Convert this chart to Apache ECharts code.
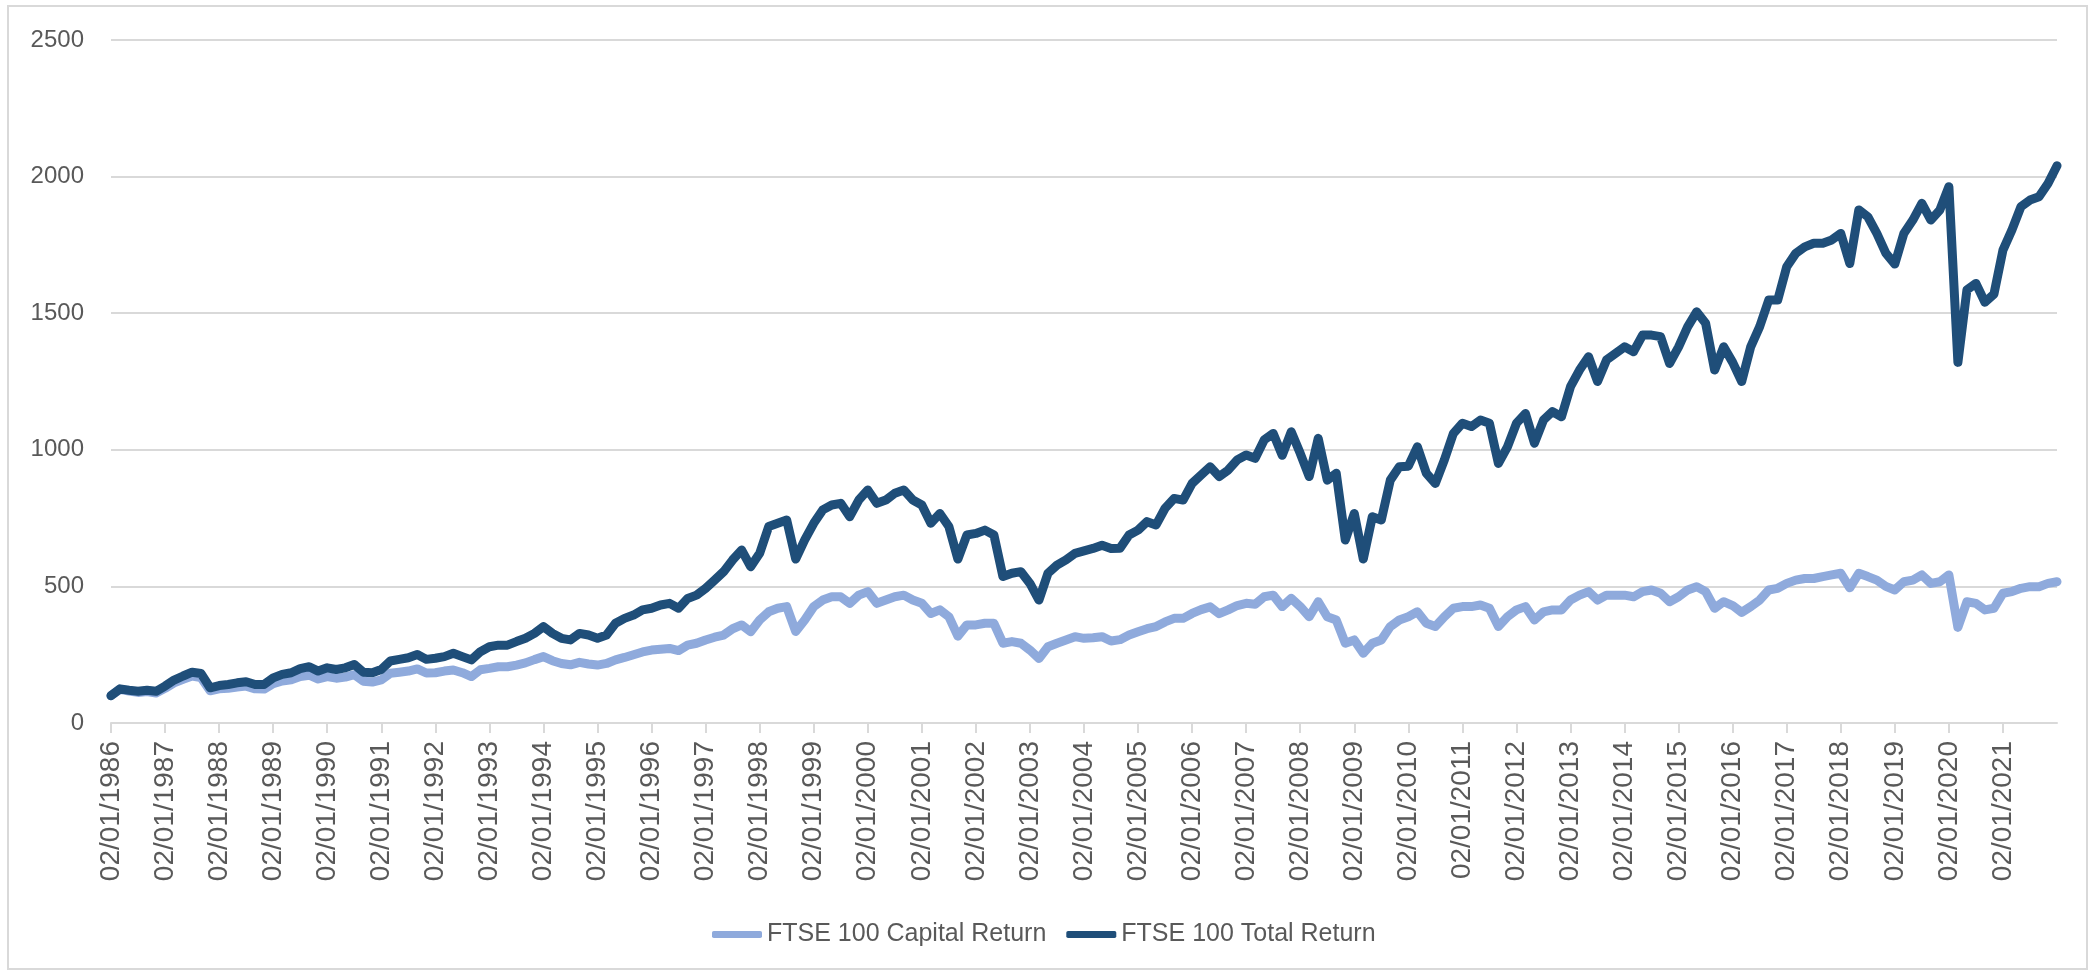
<!DOCTYPE html>
<html>
<head>
<meta charset="utf-8">
<title>FTSE 100 Capital vs Total Return</title>
<script src="https://cdn.jsdelivr.net/npm/echarts@6/dist/echarts.min.js"></script>
<style>
  html, body { margin: 0; padding: 0; background: #fff; }
  #chart { width: 2091px; height: 973px; }
</style>
</head>
<body>
<div id="chart"></div>
<script>
// one point every two months, Jan 1986 .. Jan 2022
const years = [1986, 1987, 1988, 1989, 1990, 1991, 1992, 1993, 1994, 1995, 1996, 1997,
  1998, 1999, 2000, 2001, 2002, 2003, 2004, 2005, 2006, 2007, 2008, 2009,
  2010, 2011, 2012, 2013, 2014, 2015, 2016, 2017, 2018, 2019, 2020, 2021]
const months = ['01', '03', '05', '07', '09', '11']
const lastDate = '02/01/2022'

const capitalReturn = [
  100, 123, 117, 112, 115, 110, // 1986
  127, 147, 160, 172, 166, 118,
  125, 127, 132, 135, 125, 124,
  144, 154, 158, 170, 175, 161,
  170, 164, 168, 177, 153, 150, // 1990
  158, 182, 186, 190, 198, 183,
  184, 190, 194, 184, 170, 195,
  200, 206, 206, 212, 220, 232,
  243, 228, 218, 213, 222, 216,
  212, 218, 231, 240, 250, 260,
  267, 270, 273, 265, 285, 292,
  304, 314, 322, 345, 359, 334,
  377, 407, 420, 426, 335, 377,
  426, 450, 462, 462, 438, 468,
  481, 438, 450, 462, 468, 450, // 2000
  438, 401, 414, 389, 318, 359,
  359, 365, 365, 292, 298, 292,
  267, 236, 279, 292, 304, 316,
  310, 312, 316, 300, 305, 322,
  334, 345, 353, 370, 383, 383,
  401, 415, 425, 400, 414, 430,
  438, 435, 462, 468, 426, 456,
  426, 389, 444, 389, 377, 292,
  304, 255, 292, 304, 353, 377,
  389, 407, 365, 353, 389, 420, // 2010
  426, 426, 432, 420, 353, 389,
  414, 426, 377, 407, 414, 414,
  450, 468, 481, 450, 468, 468,
  468, 462, 481, 487, 475, 444,
  462, 487, 499, 481, 420, 444,
  430, 405, 426, 450, 487, 493,
  511, 523, 529, 529, 536, 542,
  548, 495, 548, 536, 523, 500,
  487, 517, 523, 542, 511, 517,
  542, 350, 444, 438, 414, 420, // 2020
  475, 481, 493, 499, 499, 511,
  517
]

const totalReturn = [
  100, 125, 120, 116, 120, 116, // 1986
  135, 157, 172, 186, 181, 129,
  137, 141, 147, 151, 141, 141,
  165, 178, 184, 199, 206, 190,
  202, 196, 202, 214, 186, 184, // 1990
  196, 227, 233, 239, 251, 233,
  237, 243, 255, 243, 231, 261,
  279, 285, 285, 298, 310, 328,
  353, 328, 310, 304, 328, 322,
  310, 322, 365, 383, 395, 414,
  420, 432, 438, 420, 456, 468,
  493, 523, 554, 597, 633, 572,
  621, 719, 731, 743, 600, 670,
  731, 780, 798, 804, 755, 816,
  853, 804, 816, 841, 853, 816, // 2000
  798, 731, 767, 719, 600, 688,
  694, 706, 688, 536, 548, 554,
  511, 450, 548, 578, 597, 621,
  630, 639, 651, 639, 640, 688,
  706, 737, 725, 786, 822, 816,
  877, 908, 938, 902, 926, 963,
  981, 969, 1036, 1060, 980, 1066,
  987, 902, 1042, 889, 914, 670,
  767, 600, 755, 743, 889, 938,
  940, 1011, 914, 877, 963, 1060, // 2010
  1097, 1085, 1109, 1097, 950, 1011,
  1097, 1133, 1024, 1109, 1140, 1121,
  1231, 1292, 1341, 1250, 1329, 1353,
  1377, 1359, 1420, 1420, 1414, 1316,
  1377, 1450, 1505, 1463, 1292, 1377,
  1320, 1250, 1377, 1451, 1548, 1548,
  1670, 1719, 1743, 1756, 1756, 1768,
  1792, 1682, 1878, 1853, 1792, 1720,
  1680, 1792, 1841, 1902, 1841, 1878,
  1963, 1320, 1585, 1609, 1540, 1570, // 2020
  1731, 1805, 1890, 1914, 1926, 1975,
  2040
]

const categories = []
years.forEach((y) => months.forEach((m) => categories.push('02/' + m + '/' + y)))
categories.push(lastDate)

// label + tick only on the January of each year, none on the closing point
const yearStart = (i) => i % months.length === 0 && i < categories.length - 1

const chart = echarts.init(document.getElementById('chart'))
chart.setOption({
  animation: false,
  color: ['#8faadc', '#1f4e79'],
  graphic: [{
    type: 'rect',
    shape: { x: 8, y: 6, width: 2079, height: 963 },
    style: { fill: 'none', stroke: '#d9d9d9', lineWidth: 2 },
  }],
  grid: { left: 111, right: 34, top: 40, bottom: 250, containLabel: false },
  legend: {
    left: 707,
    top: 917,
    itemWidth: 50,
    itemHeight: 7,
    itemGap: 20,
    icon: 'roundRect',
    textStyle: { fontFamily: '"Liberation Sans", Arial, sans-serif', fontSize: 25, color: '#595959' },
    data: ['FTSE 100 Capital Return', 'FTSE 100 Total Return'],
  },
  xAxis: {
    type: 'category',
    boundaryGap: false,
    data: categories,
    axisLine: { lineStyle: { color: '#d9d9d9', width: 2 } },
    axisTick: { interval: yearStart, length: 10, lineStyle: { color: '#d9d9d9', width: 2 } },
    axisLabel: {
      interval: yearStart,
      rotate: 90,
      margin: 18,
      fontFamily: '"Liberation Sans", Arial, sans-serif',
      fontSize: 28,
      color: '#595959',
    },
  },
  yAxis: {
    type: 'value',
    min: 0,
    max: 2500,
    interval: 500,
    axisLine: { show: false },
    axisTick: { show: false },
    axisLabel: {
      margin: 27,
      formatter: (v) => String(v),
      fontFamily: '"Liberation Sans", Arial, sans-serif',
      fontSize: 24,
      color: '#595959',
    },
    splitLine: { lineStyle: { color: '#d9d9d9', width: 2 } },
  },
  series: [
    {
      name: 'FTSE 100 Capital Return',
      type: 'line',
      data: capitalReturn,
      symbol: 'none',
      lineStyle: { width: 9, join: 'round', cap: 'round' },
    },
    {
      name: 'FTSE 100 Total Return',
      type: 'line',
      data: totalReturn,
      symbol: 'none',
      lineStyle: { width: 9, join: 'round', cap: 'round' },
    },
  ],
})
</script>
</body>
</html>
